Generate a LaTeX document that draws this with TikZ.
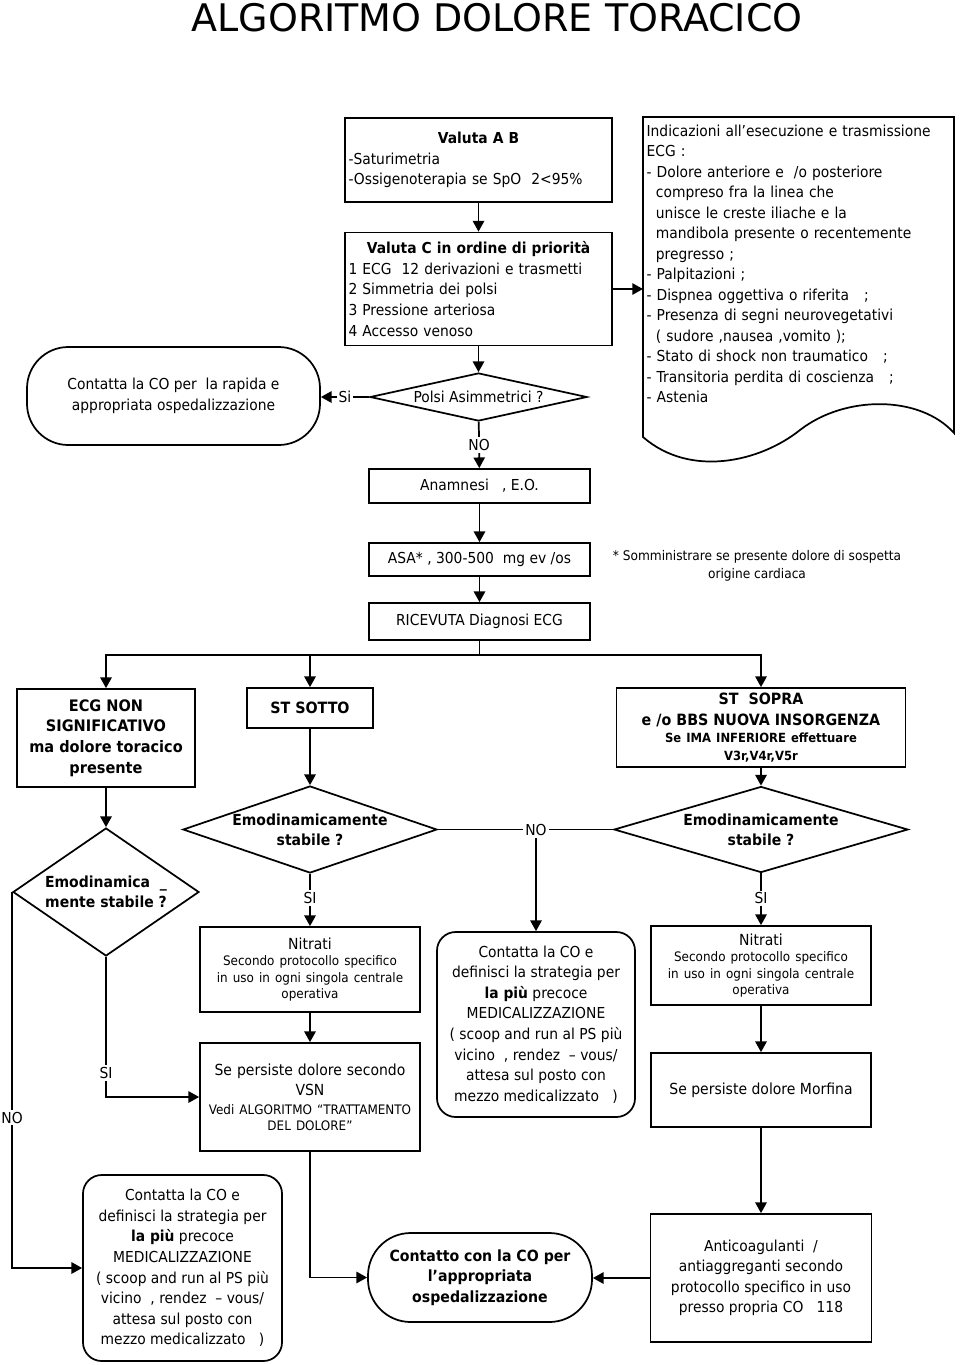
\documentclass[tikz,border=0pt]{standalone}
\usepackage{fontspec}
\setmainfont{DejaVu Sans}[Scale=1.09, FakeStretch=0.917]
\newfontfamily\titlefont{DejaVu Sans}
\usetikzlibrary{shapes.geometric,arrows.meta}
\newcommand\fsz[2]{\fontsize{#1}{#2}\selectfont}
\newcommand\fb{\fsz{10.4}{15.4}}
\begin{document}
\begin{tikzpicture}[x=0.75pt, y=-0.75pt,
  bx/.style 2 args={minimum width=#1*0.75pt, minimum height=#2*0.75pt},
  box/.style={draw, line width=1.3pt, rectangle, inner sep=1pt, font=\fb, align=center},
  rbox/.style={box, rounded corners=14pt},
  dia/.style={draw, line width=1.3pt, diamond, inner sep=-1.5pt, font=\fsz{10.5}{15}\bfseries, align=center},
  arr/.style={line width=1.3pt, -{Triangle[length=8pt,width=8.5pt]}},
  ln/.style={line width=1.3pt},
  lbl/.style={fill=white, inner sep=1.5pt, font=\fb},
]
\path[use as bounding box, fill=white] (0,0) rectangle (960,1365);

\node[font=\titlefont\fsz{28.5}{34}] (title) at (497,18) {ALGORITMO DOLORE TORACICO};

% top block
\node[box, bx={267}{84}, text width=195pt, inner xsep=2pt, align=left] (b1) at (478.5,160)
 {{\centering\bfseries Valuta A B\par}-Saturimetria\\-Ossigenoterapia se SpO\ \ 2<95\%};
\node[box, bx={267}{113}, text width=195pt, inner xsep=2pt, align=left] (b2) at (478.5,289)
 {{\centering\bfseries Valuta C in ordine di priorità\par}1 ECG\ \ 12 derivazioni e trasmetti\\2 Simmetria dei polsi\\3 Pressione arteriosa\\4 Accesso venoso};
\node[dia, bx={217}{48}, aspect=4.5, font=\fb] (d0) at (478.5,397) {Polsi Asimmetrici ?};
\node[box, bx={293}{98}, rounded corners=31pt] (t1) at (173.5,396)
 {Contatta la CO per\ \ la rapida e\\appropriata ospedalizzazione};

% document shape
\node[anchor=north west, inner xsep=2.5pt, inner ysep=5.6pt, text width=228pt, align=left,
      font=\fsz{10.4}{15.375}] (doc) at (643,117)
 {Indicazioni all’esecuzione e trasmissione\\
  ECG :\\
  - Dolore anteriore e\ \ /o posteriore\\
  \hspace*{7pt}compreso fra la linea che\\
  \hspace*{7pt}unisce le creste iliache e la\\
  \hspace*{7pt}mandibola presente o recentemente\\
  \hspace*{7pt}pregresso ;\\
  - Palpitazioni ;\\
  - Dispnea oggettiva o riferita\ \ \ ;\\
  - Presenza di segni neurovegetativi\\
  \hspace*{7pt}( sudore ,nausea ,vomito );\\
  - Stato di shock non traumatico\ \ \ ;\\
  - Transitoria perdita di coscienza\ \ \ ;\\
  - Astenia};
\draw[ln] (643,437) -- (643,117) -- (954,117) -- (954,433)
  .. controls (920,395) and (845,395) .. (800,430)
  .. controls (760,462) and (690,478) .. (643,437) -- cycle;

\draw[arr] (b1) -- (b2);
\draw[arr] (b2.east) -- (b2.east -| doc.west);
\draw[arr] (b2) -- (d0);
\draw[arr] (d0.west) -- node[lbl]{Si} (d0.west -| t1.east);

% middle column
\node[box, bx={221}{34}] (anam) at (479.5,486) {Anamnesi\ \ \ , E.O.};
\node[box, bx={221}{33}] (asa) at (479.5,559.5) {ASA*\ , 300-500\ \ mg ev /os};
\node[box, bx={221}{37}] (ric) at (479.5,621.5) {RICEVUTA Diagnosi ECG};
\node[font=\fsz{9.15}{13.5}, align=center] (note) at (757,566)
 {* Somministrare se presente dolore di sospetta\\origine cardiaca};

\draw[arr] (d0) -- node[lbl]{NO} (anam);
\draw[arr] (anam) -- (asa);
\draw[arr] (asa) -- (ric);

% diagnoses
\node[box, bx={178}{98}, font=\fsz{10.9}{15.4}\bfseries] (ecg) at (106,738)
 {ECG NON\\SIGNIFICATIVO\\ma dolore toracico\\presente};
\node[box, bx={126}{40}, font=\fsz{10.7}{15}\bfseries] (sotto) at (310,708) {ST SOTTO};
\node[box, bx={289}{79}, text width=212pt] (sopra) at (761,727.5)
 {{\fsz{10.7}{15.75}\bfseries ST\ \ SOPRA\\e /o BBS NUOVA INSORGENZA\par}%
  {\fsz{8.7}{13}\bfseries Se IMA INFERIORE effettuare\\V3r,V4r,V5r\par}};

\coordinate (split) at (479.5,655);
\draw[ln] (ric) -- (split);
\draw[arr] (split) -| (ecg);
\draw[arr] (split) -| (sotto);
\draw[arr] (split) -| (sopra);

% decisions
\node[dia, bx={186}{128}, aspect=1.45] (d1) at (106,892) {Emodinamica\ \ \_\\mente stabile ?};
\node[dia, bx={254}{87}, aspect=2.9] (d2) at (310,829.5) {Emodinamicamente\\stabile ?};
\node[dia, bx={294}{86}, aspect=3.4] (d3) at (761,829.5) {Emodinamicamente\\stabile ?};

\draw[arr] (ecg) -- (d1);
\draw[arr] (sotto) -- (d2);
\draw[arr] (sopra) -- (d3);

% treatment boxes
\node[box, bx={220}{85}, text width=163pt] (nit1) at (310,969.5)
 {\fsz{10.5}{15}Nitrati\par\fsz{9}{12.4}Secondo protocollo specifico\\in uso in ogni singola centrale\\operativa\par};
\node[box, bx={220}{108}, text width=163pt] (vsn) at (310,1097)
 {\fsz{10.5}{15}Se persiste dolore secondo\\VSN\par\vspace{2pt}\fsz{9}{12}Vedi ALGORITMO “TRATTAMENTO\\DEL DOLORE”\par};
\node[rbox, bx={198}{185}] (mid) at (536,1024.5)
 {Contatta la CO e\\definisci la strategia per\\\textbf{la più} precoce\\MEDICALIZZAZIONE\\( scoop and run al PS più\\vicino\ \ , rendez\ \ – vous/\\attesa sul posto con\\mezzo medicalizzato\ \ \ )};
\node[box, bx={220}{79}, text width=163pt] (nit2) at (761,965.5)
 {\fsz{10.5}{15}Nitrati\par\fsz{9}{12.4}Secondo protocollo specifico\\in uso in ogni singola centrale\\operativa\par};
\node[box, bx={220}{74}, font=\fsz{10.5}{15}] (morf) at (761,1090) {Se persiste dolore Morfina};
\node[box, bx={221}{128}] (anti) at (761,1278)
 {Anticoagulanti\ \ /\\antiaggreganti secondo\\protocollo specifico in uso\\presso propria CO\ \ \ 118};
\node[box, bx={224}{89}, rounded corners=32pt, font=\fsz{10.6}{15.4}\bfseries] (term2) at (480,1277.5)
 {Contatto con la CO per\\l’appropriata\\ospedalizzazione};
\node[rbox, bx={199}{186}] (bl) at (182.5,1268)
 {Contatta la CO e\\definisci la strategia per\\\textbf{la più} precoce\\MEDICALIZZAZIONE\\( scoop and run al PS più\\vicino\ \ , rendez\ \ – vous/\\attesa sul posto con\\mezzo medicalizzato\ \ \ )};

% connectors
\draw[ln] (d2.east) -- node[lbl, pos=0.56] (no2) {NO} (d3.west);
\draw[arr] (no2.south) -- (no2.south |- mid.north);
\draw[arr] (d2) -- node[lbl, pos=0.46]{SI} (nit1);
\draw[arr] (d3) -- node[lbl, pos=0.48]{SI} (nit2);
\draw[arr] (nit1) -- (vsn);
\draw[arr] (nit2) -- (morf);
\draw[arr] (morf) -- (anti);
\draw[arr] (d1.south) |- node[lbl, pos=0.415]{SI} (vsn.west);
\draw[arr] (d1.west) |- node[lbl, pos=0.3]{NO} (bl.west);
\draw[arr] (vsn.south) |- (term2.west);
\draw[arr] (anti.west) -- (anti.west -| term2.east);
\end{tikzpicture}
\end{document}
